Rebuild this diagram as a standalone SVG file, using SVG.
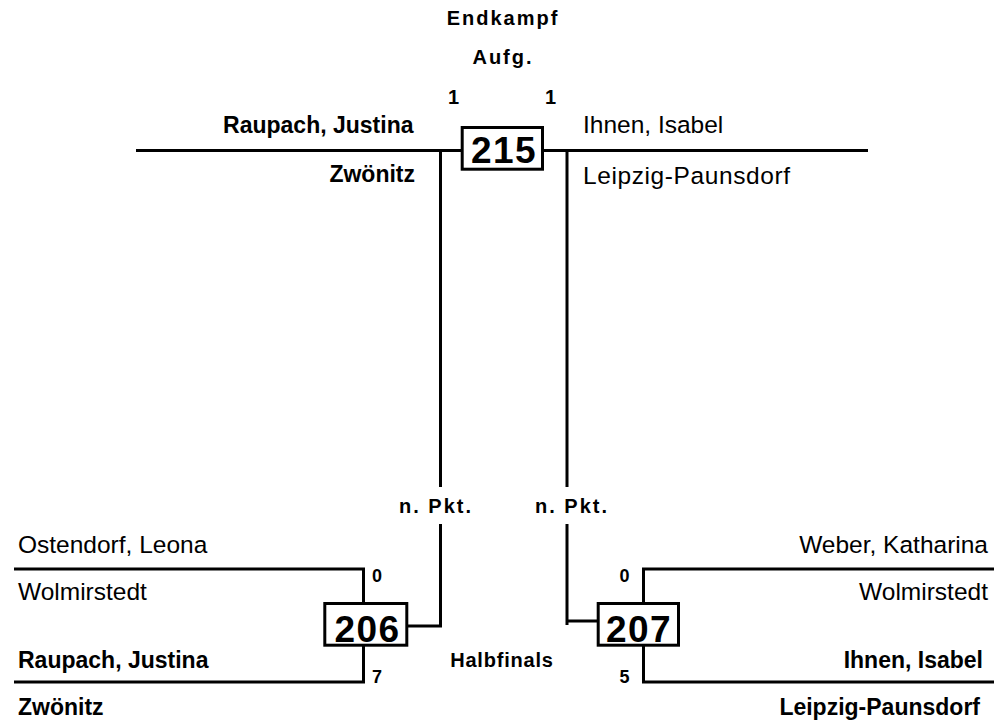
<svg xmlns="http://www.w3.org/2000/svg" width="996" height="724" viewBox="0 0 996 724">
<style>
text{font-family:"Liberation Sans",Arial,sans-serif;fill:#000}
.lbl{font-size:20px;font-weight:bold;letter-spacing:2px}
.num{font-size:18px;font-weight:bold}
.nb{font-size:23px;font-weight:bold}
.nr{font-size:24.5px}
.box{fill:#fff;stroke:#000;stroke-width:3}
.bn{font-size:37px;font-weight:bold;letter-spacing:1.5px;text-anchor:middle}
.ln{fill:none;stroke:#000;stroke-width:3}
</style>
<rect width="996" height="724" fill="#fff"/>
<g id="connectors">
<path class="ln" d="M136 150.5H462M543 150.5H868"/>
<path class="ln" d="M440.5 150.5V487M440.5 524V626H408"/>
<path class="ln" d="M567 150.5V487M567 524V625M567 621H597"/>
<path class="ln" d="M14 569H363.5V603M363.5 646V682H14"/>
<path class="ln" d="M994 569H643.5V603M643.5 646V682H994"/>
</g>
<g id="titles">
<text class="lbl" x="503" y="25" text-anchor="middle">Endkampf</text>
<text class="lbl" x="503" y="64" text-anchor="middle">Aufg.</text>
<text class="lbl" x="502" y="666.5" text-anchor="middle" style="letter-spacing:0.8px">Halbfinals</text>
</g>
<g id="node215">
<rect class="box" x="462.2" y="127.5" width="80.3" height="41.7"/>
<text class="bn" x="504" y="162.7">215</text>
<text class="num" x="448" y="104" style="font-size:20px">1</text>
<text class="num" x="545" y="104" style="font-size:20px">1</text>
<text class="nb" x="413.5" y="133.3" text-anchor="end">Raupach, Justina</text>
<text class="nb" x="415" y="182" text-anchor="end">Zwönitz</text>
<text class="nr" x="583" y="133">Ihnen, Isabel</text>
<text class="nr" x="583" y="183.5" style="letter-spacing:0.6px">Leipzig-Paunsdorf</text>
<text class="lbl" x="436" y="513.3" text-anchor="middle">n. Pkt.</text>
<text class="lbl" x="572" y="513.3" text-anchor="middle">n. Pkt.</text>
</g>
<g id="node206">
<rect class="box" x="324.8" y="603.5" width="82" height="41.7"/>
<text class="bn" x="367.5" y="641.7">206</text>
<text class="num" x="372" y="582">0</text>
<text class="num" x="372" y="683">7</text>
<text class="nr" x="18" y="553.3">Ostendorf, Leona</text>
<text class="nr" x="18" y="600">Wolmirstedt</text>
<text class="nb" x="18" y="668.3">Raupach, Justina</text>
<text class="nb" x="18" y="715">Zwönitz</text>
</g>
<g id="node207">
<rect class="box" x="598.2" y="603.5" width="80.3" height="41.7"/>
<text class="bn" x="639" y="641.7">207</text>
<text class="num" x="619.5" y="582">0</text>
<text class="num" x="619.5" y="683">5</text>
<text class="nr" x="988" y="553.3" text-anchor="end">Weber, Katharina</text>
<text class="nr" x="988" y="600" text-anchor="end">Wolmirstedt</text>
<text class="nb" x="983" y="668.3" text-anchor="end">Ihnen, Isabel</text>
<text class="nb" x="980" y="715" text-anchor="end">Leipzig-Paunsdorf</text>
</g>
</svg>
